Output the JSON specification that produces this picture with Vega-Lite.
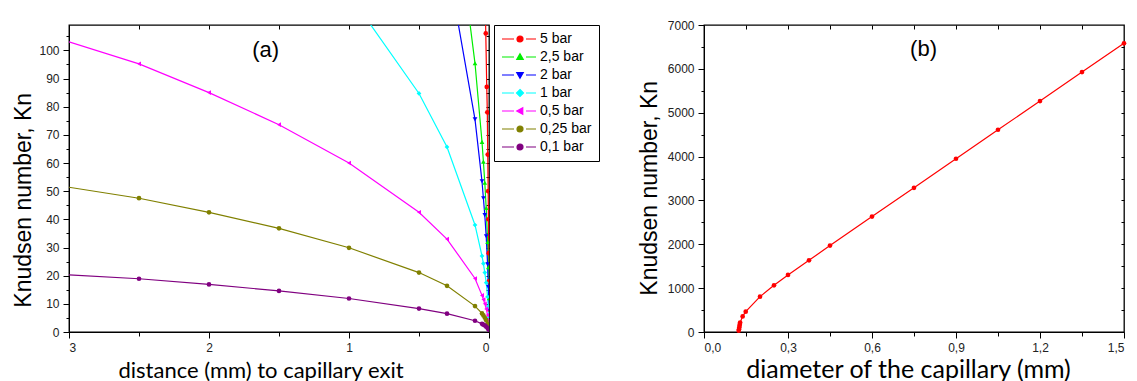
{
"$schema": "https://vega.github.io/schema/vega-lite/v6.json",
"background": "white",
"padding": {"left": 11, "top": 18, "right": 0, "bottom": 0},
"spacing": 146,
"config": {
  "view": {"stroke": "black", "strokeWidth": 1.3},
  "axis": {"grid": false, "domainColor": "black", "tickColor": "black", "labelFont": "Liberation Sans", "labelFontSize": 12, "labelColor": "#222", "titleColor": "black", "titleFontWeight": "normal", "tickWidth": 1}
},
"datasets": {
  "left": [
    {"p":"5 bar","d":0.03,"kn":125},{"p":"5 bar","d":0.023,"kn":106},{"p":"5 bar","d":0.016,"kn":87},{"p":"5 bar","d":0.012,"kn":78},{"p":"5 bar","d":0.009,"kn":63},{"p":"5 bar","d":0.006,"kn":50},{"p":"5 bar","d":0.004,"kn":40},{"p":"5 bar","d":0.002,"kn":28},{"p":"5 bar","d":0.001,"kn":18},{"p":"5 bar","d":0,"kn":8},
    {"p":"2,5 bar","d":0.15,"kn":115},{"p":"2,5 bar","d":0.1,"kn":95.4},{"p":"2,5 bar","d":0.05,"kn":67.5},{"p":"2,5 bar","d":0.04,"kn":60.5},{"p":"2,5 bar","d":0.03,"kn":53},{"p":"2,5 bar","d":0.02,"kn":44},{"p":"2,5 bar","d":0.01,"kn":32},{"p":"2,5 bar","d":0.005,"kn":23},{"p":"2,5 bar","d":0,"kn":12},
    {"p":"2 bar","d":0.25,"kn":118},{"p":"2 bar","d":0.1,"kn":75.5},{"p":"2 bar","d":0.05,"kn":53.5},{"p":"2 bar","d":0.04,"kn":47.5},{"p":"2 bar","d":0.03,"kn":41.5},{"p":"2 bar","d":0.02,"kn":34},{"p":"2 bar","d":0.01,"kn":24},{"p":"2 bar","d":0.005,"kn":16},{"p":"2 bar","d":0,"kn":8},
    {"p":"1 bar","d":1,"kn":120},{"p":"1 bar","d":0.5,"kn":84.7},{"p":"1 bar","d":0.3,"kn":65.7},{"p":"1 bar","d":0.1,"kn":38},{"p":"1 bar","d":0.05,"kn":27},{"p":"1 bar","d":0.04,"kn":24.3},{"p":"1 bar","d":0.03,"kn":21.1},{"p":"1 bar","d":0.02,"kn":17.5},{"p":"1 bar","d":0.01,"kn":12.5},{"p":"1 bar","d":0.005,"kn":9},{"p":"1 bar","d":0,"kn":5},
    {"p":"0,5 bar","d":3,"kn":103},{"p":"0,5 bar","d":2.5,"kn":95.2},{"p":"0,5 bar","d":2,"kn":85},{"p":"0,5 bar","d":1.5,"kn":73.6},{"p":"0,5 bar","d":1,"kn":60},{"p":"0,5 bar","d":0.5,"kn":42.5},{"p":"0,5 bar","d":0.3,"kn":33},{"p":"0,5 bar","d":0.1,"kn":19},{"p":"0,5 bar","d":0.05,"kn":13},{"p":"0,5 bar","d":0.04,"kn":11.5},{"p":"0,5 bar","d":0.03,"kn":10},{"p":"0,5 bar","d":0.02,"kn":8.2},{"p":"0,5 bar","d":0.01,"kn":6},{"p":"0,5 bar","d":0.005,"kn":4.5},{"p":"0,5 bar","d":0,"kn":3},
    {"p":"0,25 bar","d":3,"kn":51.4},{"p":"0,25 bar","d":2.5,"kn":47.5},{"p":"0,25 bar","d":2,"kn":42.5},{"p":"0,25 bar","d":1.5,"kn":36.8},{"p":"0,25 bar","d":1,"kn":29.9},{"p":"0,25 bar","d":0.5,"kn":21.1},{"p":"0,25 bar","d":0.3,"kn":16.4},{"p":"0,25 bar","d":0.1,"kn":9.2},{"p":"0,25 bar","d":0.05,"kn":6.6},{"p":"0,25 bar","d":0.04,"kn":5.9},{"p":"0,25 bar","d":0.03,"kn":5.1},{"p":"0,25 bar","d":0.02,"kn":4.2},{"p":"0,25 bar","d":0.01,"kn":3},{"p":"0,25 bar","d":0.005,"kn":2.3},{"p":"0,25 bar","d":0,"kn":1.5},
    {"p":"0,1 bar","d":3,"kn":20.3},{"p":"0,1 bar","d":2.5,"kn":18.9},{"p":"0,1 bar","d":2,"kn":16.9},{"p":"0,1 bar","d":1.5,"kn":14.6},{"p":"0,1 bar","d":1,"kn":11.9},{"p":"0,1 bar","d":0.5,"kn":8.3},{"p":"0,1 bar","d":0.3,"kn":6.5},{"p":"0,1 bar","d":0.1,"kn":4},{"p":"0,1 bar","d":0.05,"kn":2.9},{"p":"0,1 bar","d":0.04,"kn":2.6},{"p":"0,1 bar","d":0.03,"kn":2.3},{"p":"0,1 bar","d":0.02,"kn":1.9},{"p":"0,1 bar","d":0.01,"kn":1.4},{"p":"0,1 bar","d":0.005,"kn":1.1},{"p":"0,1 bar","d":0,"kn":0.8}
  ],
  "right": [
    {"dia":0.124,"kn":30},{"dia":0.125,"kn":65},{"dia":0.126,"kn":100},{"dia":0.127,"kn":140},{"dia":0.128,"kn":180},{"dia":0.129,"kn":215},{"dia":0.138,"kn":356},{"dia":0.149,"kn":463},{"dia":0.2,"kn":806},{"dia":0.25,"kn":1064},{"dia":0.3,"kn":1301},{"dia":0.375,"kn":1635},{"dia":0.45,"kn":1970},{"dia":0.6,"kn":2632},{"dia":0.75,"kn":3287},{"dia":0.9,"kn":3950},{"dia":1.05,"kn":4611},{"dia":1.2,"kn":5265},{"dia":1.35,"kn":5927},{"dia":1.5,"kn":6582}
  ]
},
"hconcat": [
  {
    "width": 420, "height": 307,
    "layer": [
      {
        "data": {"name": "left"},
        "mark": {"type": "line", "clip": true, "strokeWidth": 1.2},
        "encoding": {
          "x": {"field": "d", "type": "quantitative", "scale": {"domain": [0, 3], "reverse": true, "nice": false},
                "axis": {"values": [0,0.5,1,1.5,2,2.5,3], "labelExpr": "datum.value % 1 === 0 ? format(datum.value, 'd') : ''",
                         "tickSize": {"condition": {"test": "datum.value % 1 === 0", "value": 6}, "value": 4},
                         "labelPadding": 4, "title": "distance (mm) to capillary exit", "titleFont": "Lato", "titleFontSize": 22,
                         "titleX": 191.5, "titleY": 45, "titleBaseline": "alphabetic", "titleAlign": "center"}},
          "y": {"field": "kn", "type": "quantitative", "scale": {"domain": [0, 109], "nice": false},
                "axis": {"values": [0,5,10,15,20,25,30,35,40,45,50,55,60,65,70,75,80,85,90,95,100,105],
                         "labelExpr": "datum.value % 10 === 0 ? format(datum.value, 'd') : ''",
                         "tickSize": {"condition": {"test": "datum.value % 10 === 0", "value": 6}, "value": 3},
                         "labelPadding": 4, "title": "Knudsen number, Kn", "titleFont": "Liberation Sans", "titleFontSize": 23,
                         "titleX": -39, "titleY": 174.8, "titleBaseline": "alphabetic", "titleAlign": "center", "titleAngle": 270}},
          "color": {"field": "p", "type": "nominal",
                    "scale": {"domain": ["5 bar","2,5 bar","2 bar","1 bar","0,5 bar","0,25 bar","0,1 bar"], "range": ["#ff0000","#00ee00","#0000ff","#00ffff","#ff00ff","#808000","#800080"]},
                    "legend": {"title": null, "orient": "none", "legendX": 425, "legendY": 0, "strokeColor": "black", "fillColor": "white",
                               "padding": 7, "labelFont": "Liberation Sans", "labelFontSize": 14, "labelColor": "black", "rowPadding": 4,
                               "symbolSize": 100, "labelOffset": 25, "symbolStrokeWidth": 1.2,
                               "symbolType": "M-1.2,0H1.2M3.6,0H5.6M1.8,0A0.6,0.6 0 1,1 3,0A0.6,0.6 0 1,1 1.8,0Z",
                               "encoding": {"symbols": {
                                 "shape": {"value": {"expr": "['M-1.2,0H1.2M3.6,0H5.6M1.8,0A0.6,0.6 0 1,1 3,0A0.6,0.6 0 1,1 1.8,0Z','M-1.2,0H1.2M3.6,0H5.6M2.4,-0.65L3.05,0.5L1.75,0.5Z','M-1.2,0H1.2M3.6,0H5.6M2.4,0.65L3.05,-0.5L1.75,-0.5Z','M-1.2,0H1.2M3.6,0H5.6M2.4,-0.7L3.1,0L2.4,0.7L1.7,0Z','M-1.2,0H1.2M3.6,0H5.6M1.75,0L2.95,-0.65L2.95,0.65Z','M-1.2,0H1.2M3.6,0H5.6M1.8,0A0.6,0.6 0 1,1 3,0A0.6,0.6 0 1,1 1.8,0Z','M-1.2,0H1.2M3.6,0H5.6M1.8,0A0.6,0.6 0 1,1 3,0A0.6,0.6 0 1,1 1.8,0Z'][indexof(['5 bar','2,5 bar','2 bar','1 bar','0,5 bar','0,25 bar','0,1 bar'], datum.value)]"}},
                                 "fill": {"value": {"expr": "['#ff0000','#00ee00','#0000ff','#00ffff','#ff00ff','#808000','#800080'][indexof(['5 bar','2,5 bar','2 bar','1 bar','0,5 bar','0,25 bar','0,1 bar'], datum.value)]"}},
                                 "stroke": {"value": {"expr": "['#ff0000','#00ee00','#0000ff','#00ffff','#ff00ff','#808000','#800080'][indexof(['5 bar','2,5 bar','2 bar','1 bar','0,5 bar','0,25 bar','0,1 bar'], datum.value)]"}},
                                 "strokeWidth": {"value": 1.2},
                                 "opacity": {"value": 1}
                               }}}}
        }
      },
      {
        "data": {"name": "left"},
        "transform": [{"filter": "datum.d < 3"}],
        "mark": {"type": "point", "filled": true, "clip": true, "size": 22, "opacity": 1},
        "encoding": {
          "x": {"field": "d", "type": "quantitative", "axis": {"orient": "top", "labels": false, "title": null, "domain": false, "values": [0.5,1,1.5,2,2.5], "tickSize": -4}},
          "y": {"field": "kn", "type": "quantitative", "axis": {"orient": "right", "labels": false, "title": null, "domain": false, "values": [5,10,15,20,25,30,35,40,45,50,55,60,65,70,75,80,85,90,95,100,105], "tickSize": -3}},
          "color": {"field": "p", "type": "nominal"},
          "shape": {"field": "p", "type": "nominal", "scale": {"domain": ["0,1 bar","0,25 bar","0,5 bar","1 bar","2 bar","2,5 bar","5 bar"], "range": ["circle","circle","triangle-left","diamond","triangle-down","triangle-up","circle"]}, "legend": null}
        }
      },
      {
        "data": {"values": [{"d": 1.595, "kn": 100, "t": "(a)"}]},
        "mark": {"type": "text", "font": "Liberation Sans", "fontSize": 22, "color": "black", "baseline": "middle", "align": "center"},
        "encoding": {
          "x": {"field": "d", "type": "quantitative", "axis": null},
          "y": {"field": "kn", "type": "quantitative", "axis": null},
          "text": {"field": "t"}
        }
      }
    ],
    "resolve": {"axis": {"x": "independent", "y": "independent"}}
  },
  {
    "width": 420, "height": 307,
    "layer": [
      {
        "data": {"name": "right"},
        "mark": {"type": "line", "color": "#ff0000", "strokeWidth": 1.2},
        "encoding": {
          "x": {"field": "dia", "type": "quantitative", "scale": {"domain": [0, 1.5], "nice": false},
                "axis": {"values": [0,0.15,0.3,0.45,0.6,0.75,0.9,1.05,1.2,1.35,1.5],
                         "labelExpr": "round(datum.value*10) % 3 === 0 ? replace(format(datum.value, '.1f'), '.', ',') : ''",
                         "tickSize": {"condition": {"test": "round(datum.value*10) % 3 === 0", "value": 6}, "value": 4},
                         "labelPadding": 4, "title": "diameter of the capillary (mm)", "titleFont": "Lato", "titleFontSize": 25,
                         "titleX": 204, "titleY": 45, "titleBaseline": "alphabetic", "titleAlign": "center"}},
          "y": {"field": "kn", "type": "quantitative", "scale": {"domain": [0, 7000], "nice": false},
                "axis": {"values": [0,500,1000,1500,2000,2500,3000,3500,4000,4500,5000,5500,6000,6500,7000],
                         "labelExpr": "datum.value % 1000 === 0 ? format(datum.value, 'd') : ''",
                         "tickSize": {"condition": {"test": "datum.value % 1000 === 0", "value": 6}, "value": 3},
                         "labelPadding": 4, "title": "Knudsen number, Kn", "titleFont": "Liberation Sans", "titleFontSize": 23,
                         "titleX": -47.7, "titleY": 162.8, "titleBaseline": "alphabetic", "titleAlign": "center", "titleAngle": 270}}
        }
      },
      {
        "data": {"name": "right"},
        "mark": {"type": "point", "filled": true, "color": "#ff0000", "size": 22, "opacity": 1},
        "encoding": {
          "x": {"field": "dia", "type": "quantitative", "axis": {"orient": "top", "labels": false, "title": null, "domain": false, "values": [0.15,0.3,0.45,0.6,0.75,0.9,1.05,1.2,1.35], "tickSize": -4}},
          "y": {"field": "kn", "type": "quantitative", "axis": {"orient": "right", "labels": false, "title": null, "domain": false, "values": [500,1000,1500,2000,2500,3000,3500,4000,4500,5000,5500,6000,6500], "tickSize": -3}}
        }
      },
      {
        "data": {"values": [{"dia": 0.784, "kn": 6452, "t": "(b)"}]},
        "mark": {"type": "text", "font": "Liberation Sans", "fontSize": 22, "color": "black", "baseline": "middle", "align": "center"},
        "encoding": {
          "x": {"field": "dia", "type": "quantitative", "axis": null},
          "y": {"field": "kn", "type": "quantitative", "axis": null},
          "text": {"field": "t"}
        }
      }
    ],
    "resolve": {"axis": {"x": "independent", "y": "independent"}}
  }
]
}
